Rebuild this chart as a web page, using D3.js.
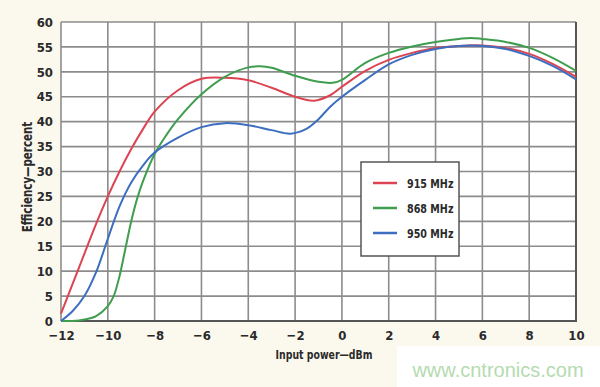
<!DOCTYPE html>
<html>
<head>
<meta charset="utf-8">
<script src="https://cdn.jsdelivr.net/npm/d3@7"></script>
<style>
  body { margin: 0; background: #fbf8ee; }
  svg { display: block; }
  text { font-family: "Liberation Sans Narrow", "DejaVu Sans Condensed", "Roboto Condensed", sans-serif; font-weight: bold; fill: #2a2a2a; }
</style>
</head>
<body>
<svg width="600" height="387"></svg>
<script>
// Data
const xTicks = [-12, -10, -8, -6, -4, -2, 0, 2, 4, 6, 8, 10];
const yTicks = [0, 5, 10, 15, 20, 25, 30, 35, 40, 45, 50, 55, 60];
const seriesNames = ['915 MHz', '868 MHz', '950 MHz'];
const seriesColors = ['#dc4452', '#3f9d4e', '#3d6ebf'];

const power915 = [-12, -11.5, -11, -10.5, -10, -9.5, -9, -8.5, -8, -7, -6, -5, -4, -3, -2, -1.2, -0.5, 0, 1, 2, 3, 4, 5, 6, 7, 8, 9, 10];
const eff915 = [1.5, 7.5, 13.5, 19.5, 25, 30, 34.5, 38.5, 42, 46.3, 48.6, 48.8, 48.3, 46.8, 45, 44.2, 45.3, 47, 50.2, 52.4, 53.8, 54.8, 55.2, 55.3, 54.8, 53.6, 51.6, 49];

const power868 = [-12, -11.5, -11, -10.5, -10, -9.75, -9.5, -9.25, -9, -8.75, -8.5, -8, -7.5, -7, -6, -5, -4, -3.5, -3, -2, -1, -0.4, 0, 1, 2, 3, 4, 5, 5.5, 6, 7, 8, 9, 10];
const eff868 = [0, 0, 0.3, 1, 3, 5, 9, 14.5, 20, 24.5, 28, 33.5, 37.3, 40.5, 45.5, 49, 50.9, 51.1, 50.8, 49.2, 48, 47.8, 48.4, 51.8, 53.8, 55.1, 56, 56.6, 56.8, 56.6, 56, 54.8, 52.8, 50.2];

const power950 = [-12, -11.5, -11, -10.5, -10, -9.5, -9, -8.5, -8, -7, -6, -5, -4, -3, -2.2, -1.5, -1, -0.5, 0, 1, 2, 3, 4, 5, 6, 7, 8, 9, 10];
const eff950 = [0, 2, 5, 9.8, 16.5, 23, 27.8, 31.2, 33.8, 36.8, 38.9, 39.7, 39.3, 38.3, 37.6, 38.6, 40.5, 43, 45, 48.4, 51.5, 53.4, 54.6, 55.2, 55.2, 54.6, 53.2, 51.2, 48.5];

const series = [
  { name: seriesNames[0], color: seriesColors[0], xs: power915, ys: eff915 },
  { name: seriesNames[1], color: seriesColors[1], xs: power868, ys: eff868 },
  { name: seriesNames[2], color: seriesColors[2], xs: power950, ys: eff950 }
];

// Layout
const margin = { top: 22, right: 24, bottom: 66, left: 61 };
const width = 600 - margin.left - margin.right;
const height = 387 - margin.top - margin.bottom;

const svg = d3.select("svg");
const g = svg.append("g")
    .attr("transform", `translate(${margin.left},${margin.top})`);

const x = d3.scaleLinear().domain([-12, 10]).range([0, width]);
const y = d3.scaleLinear().domain([0, 60]).range([height, 0]);

// Plot background
g.append("rect")
    .attr("width", width)
    .attr("height", height)
    .attr("fill", "#fff");

// Grid
g.append("g").selectAll("line")
    .data(xTicks)
  .enter().append("line")
    .attr("x1", d => x(d)).attr("x2", d => x(d))
    .attr("y1", 0).attr("y2", height)
    .attr("stroke", "#8c8c8c")
    .attr("stroke-width", 1.6);

g.append("g").selectAll("line")
    .data(yTicks)
  .enter().append("line")
    .attr("x1", 0).attr("x2", width)
    .attr("y1", d => y(d)).attr("y2", d => y(d))
    .attr("stroke", "#8c8c8c")
    .attr("stroke-width", 1.6);

// Right and bottom frame
g.append("path")
    .attr("d", `M${x(10)},${y(60)}V${y(0)}H${x(-12)}`)
    .attr("fill", "none")
    .attr("stroke", "#555")
    .attr("stroke-width", 2);

// Axes (labels only)
const xAxis = g.append("g")
    .attr("transform", `translate(0,${height})`)
    .call(d3.axisBottom(x).tickValues(xTicks).tickSize(0).tickPadding(10));
const yAxis = g.append("g")
    .call(d3.axisLeft(y).tickValues(yTicks).tickSize(0).tickPadding(8));
[xAxis, yAxis].forEach(a => {
  a.select(".domain").remove();
  a.selectAll("text")
    .attr("font-family", null)
    .style("font-size", "13px")
    .style("fill", "#2a2a2a");
});

// Curves
const line = d3.line()
    .x(d => x(d[0]))
    .y(d => y(d[1]))
    .curve(d3.curveCatmullRom.alpha(0.5));

g.selectAll(".curve")
    .data(series)
  .enter().append("path")
    .attr("class", "curve")
    .attr("d", s => line(s.xs.map((v, i) => [v, s.ys[i]])))
    .attr("fill", "none")
    .attr("stroke", s => s.color)
    .attr("stroke-width", 2);

// Legend
const legend = svg.append("g").attr("transform", "translate(361,162)");
legend.append("rect")
    .attr("width", 98)
    .attr("height", 94)
    .attr("fill", "#fff")
    .attr("stroke", "#555")
    .attr("stroke-width", 1.5);
const item = legend.selectAll(".item")
    .data(series)
  .enter().append("g")
    .attr("transform", (d, i) => `translate(0,${21 + i * 25})`);
item.append("line")
    .attr("x1", 12).attr("x2", 36)
    .attr("stroke", d => d.color)
    .attr("stroke-width", 2.5);
item.append("text")
    .attr("transform", "translate(46,0) scale(0.82,1)")
    .attr("dy", "0.35em")
    .style("font-size", "13px")
    .text(d => d.name);

// Axis titles
svg.append("text")
    .attr("transform", "translate(324,359) scale(0.8,1)")
    .attr("text-anchor", "middle")
    .style("font-size", "13px")
    .text("Input power\u2014dBm");

svg.append("text")
    .attr("transform", "translate(32,177) rotate(-90) scale(0.85,1)")
    .attr("text-anchor", "middle")
    .style("font-size", "13.5px")
    .text("Efficiency\u2014percent");

// Watermark
svg.append("rect")
    .attr("x", 397).attr("y", 346)
    .attr("width", 203).attr("height", 41)
    .attr("fill", "#fff");
svg.append("text")
    .attr("x", 498)
    .attr("y", 377)
    .attr("text-anchor", "middle")
    .style("font-family", "'Liberation Sans', Arial, sans-serif")
    .style("font-weight", "normal")
    .style("font-size", "20px")
    .style("fill", "#b5dbb0")
    .text("www.cntronics.com");
</script>
</body>
</html>
